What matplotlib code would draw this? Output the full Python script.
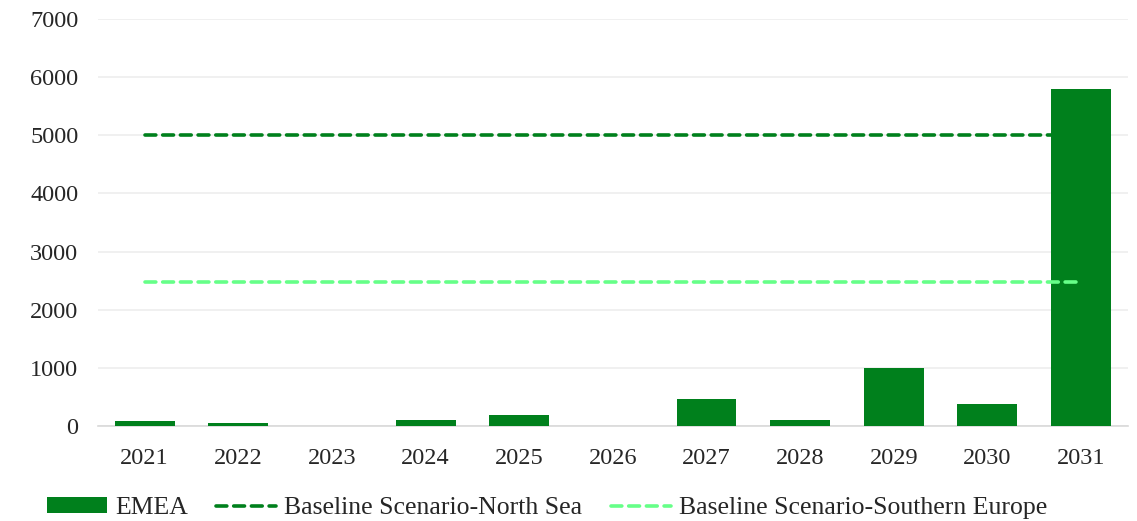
import numpy as np
import matplotlib
matplotlib.use("Agg")
import matplotlib.pyplot as plt

# chart data
years = ["2021", "2022", "2023", "2024", "2025", "2026", "2027", "2028", "2029", "2030", "2031"]
emea = [85, 50, 10, 100, 200, 0, 465, 100, 1000, 380, 5800]
north_sea = [5000] * len(years)
southern_europe = [2480] * len(years)

bar_color = "#00801C"
light_color = "#66FF88"
text_color = "#262626"

plt.rcParams["font.family"] = ["Liberation Serif", "DejaVu Serif"]

fig = plt.figure(figsize=(11.37, 5.21), dpi=100)
ax = fig.add_axes([0.086, 0.182, 0.906, 0.782])

x = np.arange(len(years))
ns_line, = ax.plot(x, north_sea, color=bar_color, lw=2.6, dashes=(3.0, 1.9),
                   dash_capstyle="round", zorder=2)
bars = ax.bar(x, emea, width=0.64, color=bar_color, zorder=3)
se_line, = ax.plot(x, southern_europe, color=light_color, lw=2.6, dashes=(3.0, 1.9),
                   dash_capstyle="round", zorder=4)

ax.set_xlim(-0.5, len(years) - 0.5)
ax.set_ylim(0, 7000)
ax.set_yticks(range(0, 7001, 1000))
ax.set_xticks(x)
ax.set_xticklabels(years)
ax.grid(axis="y", color="#EEEEEE", lw=1.2, zorder=0)
ax.set_axisbelow(True)
for s in ["top", "right", "left"]:
    ax.spines[s].set_visible(False)
ax.spines["bottom"].set_color("#D9D9D9")
ax.spines["bottom"].set_linewidth(1.2)
ax.tick_params(length=0, labelsize=17.5, colors=text_color, pad=14)
ax.tick_params(axis="x", pad=16)

fig.legend([bars, ns_line, se_line],
           ["EMEA", "Baseline Scenario-North Sea", "Baseline Scenario-Southern Europe"],
           loc="lower center", bbox_to_anchor=(0.481, -0.041), ncol=3, frameon=False,
           fontsize=18.5, labelcolor=text_color, handlelength=2.35,
           handleheight=0.6, columnspacing=1.1, handletextpad=0.3)

fig.savefig("out.png", dpi=100)
